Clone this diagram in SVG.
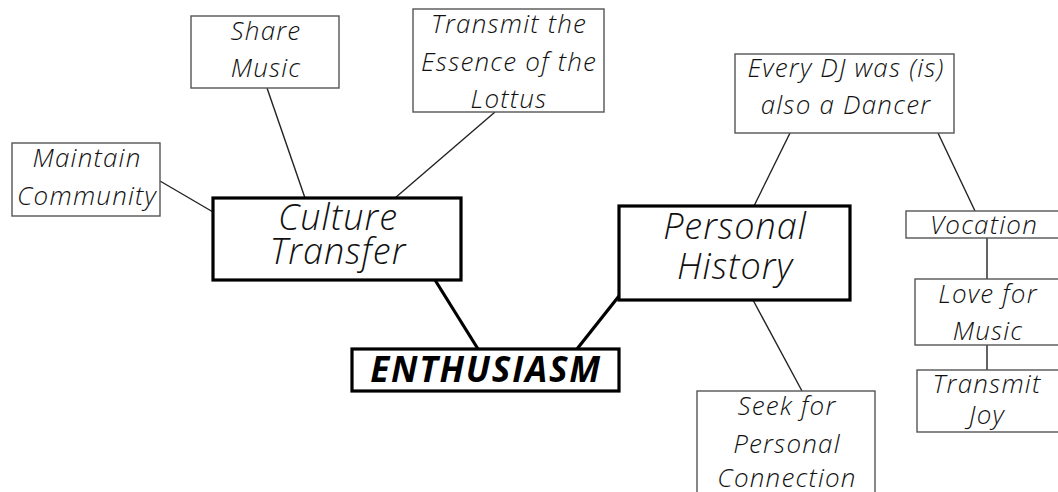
<svg xmlns="http://www.w3.org/2000/svg" width="1058" height="492" viewBox="0 0 1058 492">
  <style>
    .bg { fill: #ffffff; }
    .box { fill: #ffffff; stroke: #555555; stroke-width: 1.4; }
    .main { fill: #ffffff; stroke: #000000; stroke-width: 3.2; }
    .txt { font-family: "Open Sans", "Liberation Sans", sans-serif; font-weight: 300; font-style: italic; fill: #111111; text-anchor: middle; }
    .sm { font-size: 26px; letter-spacing: 1.2px; }
    .lg { font-size: 36px; letter-spacing: 1px; }
    .hub { font-family: "Open Sans", "Liberation Sans", sans-serif; font-weight: 700; font-style: italic; font-size: 35px; letter-spacing: 1.8px; fill: #000000; text-anchor: middle; }
    .thin { stroke: #222222; stroke-width: 1.4; fill: none; }
    .thick { stroke: #000000; stroke-width: 3.2; fill: none; }
  </style>
  <rect class="bg" x="0" y="0" width="1058" height="492"/>

  <!-- links between the ideas -->
  <g id="connectors">
    <line class="thin" x1="267" y1="88" x2="305" y2="198"/>
    <line class="thin" x1="160" y1="181" x2="213" y2="212"/>
    <line class="thin" x1="495" y1="112" x2="395" y2="198"/>
    <line class="thick" x1="435" y1="280" x2="478" y2="349"/>
    <line class="thick" x1="619" y1="296" x2="577" y2="349"/>
    <line class="thin" x1="790" y1="133" x2="754" y2="206"/>
    <line class="thin" x1="938" y1="133" x2="975" y2="211"/>
    <line class="thin" x1="987" y1="238" x2="987" y2="279"/>
    <line class="thin" x1="987" y1="345" x2="987" y2="370"/>
    <line class="thin" x1="753" y1="300" x2="802" y2="391"/>
  </g>

  <g id="share-music">
    <rect class="box" x="191" y="16" width="148" height="72"/>
    <text class="txt sm" x="266" y="40">Share</text>
    <text class="txt sm" x="266" y="77">Music</text>
  </g>

  <g id="transmit-essence">
    <rect class="box" x="413" y="9" width="191" height="103"/>
    <text class="txt sm" x="509" y="33">Transmit the</text>
    <text class="txt sm" x="509" y="71">Essence of the</text>
    <text class="txt sm" x="509" y="108">Lottus</text>
  </g>

  <g id="maintain-community">
    <rect class="box" x="12" y="143" width="148" height="73"/>
    <text class="txt sm" x="87" y="167">Maintain</text>
    <text class="txt sm" x="87" y="205">Community</text>
  </g>

  <g id="culture-transfer">
    <rect class="main" x="213" y="198" width="248" height="82"/>
    <text class="txt lg" x="338" y="230">Culture</text>
    <text class="txt lg" x="338" y="264">Transfer</text>
  </g>

  <g id="enthusiasm">
    <rect class="main" x="352" y="349" width="267" height="42"/>
    <text class="hub" x="486" y="382">ENTHUSIASM</text>
  </g>

  <g id="personal-history">
    <rect class="main" x="619" y="206" width="231" height="94"/>
    <text class="txt lg" x="735" y="239">Personal</text>
    <text class="txt lg" x="735" y="279">History</text>
  </g>

  <g id="every-dj">
    <rect class="box" x="735" y="54" width="219" height="79"/>
    <text class="txt sm" x="846" y="77">Every DJ was (is)</text>
    <text class="txt sm" x="846" y="114">also a Dancer</text>
  </g>

  <g id="vocation">
    <rect class="box" x="906" y="211" width="160" height="27"/>
    <text class="txt sm" x="984" y="234">Vocation</text>
  </g>

  <g id="love-for-music">
    <rect class="box" x="915" y="279" width="150" height="66"/>
    <text class="txt sm" x="988" y="303">Love for</text>
    <text class="txt sm" x="988" y="340">Music</text>
  </g>

  <g id="transmit-joy">
    <rect class="box" x="917" y="370" width="150" height="62"/>
    <text class="txt sm" x="987" y="393">Transmit</text>
    <text class="txt sm" x="987" y="424">Joy</text>
  </g>

  <g id="seek-connection">
    <rect class="box" x="697" y="391" width="178" height="110"/>
    <text class="txt sm" x="787" y="415">Seek for</text>
    <text class="txt sm" x="787" y="453">Personal</text>
    <text class="txt sm" x="787" y="487">Connection</text>
  </g>
</svg>
